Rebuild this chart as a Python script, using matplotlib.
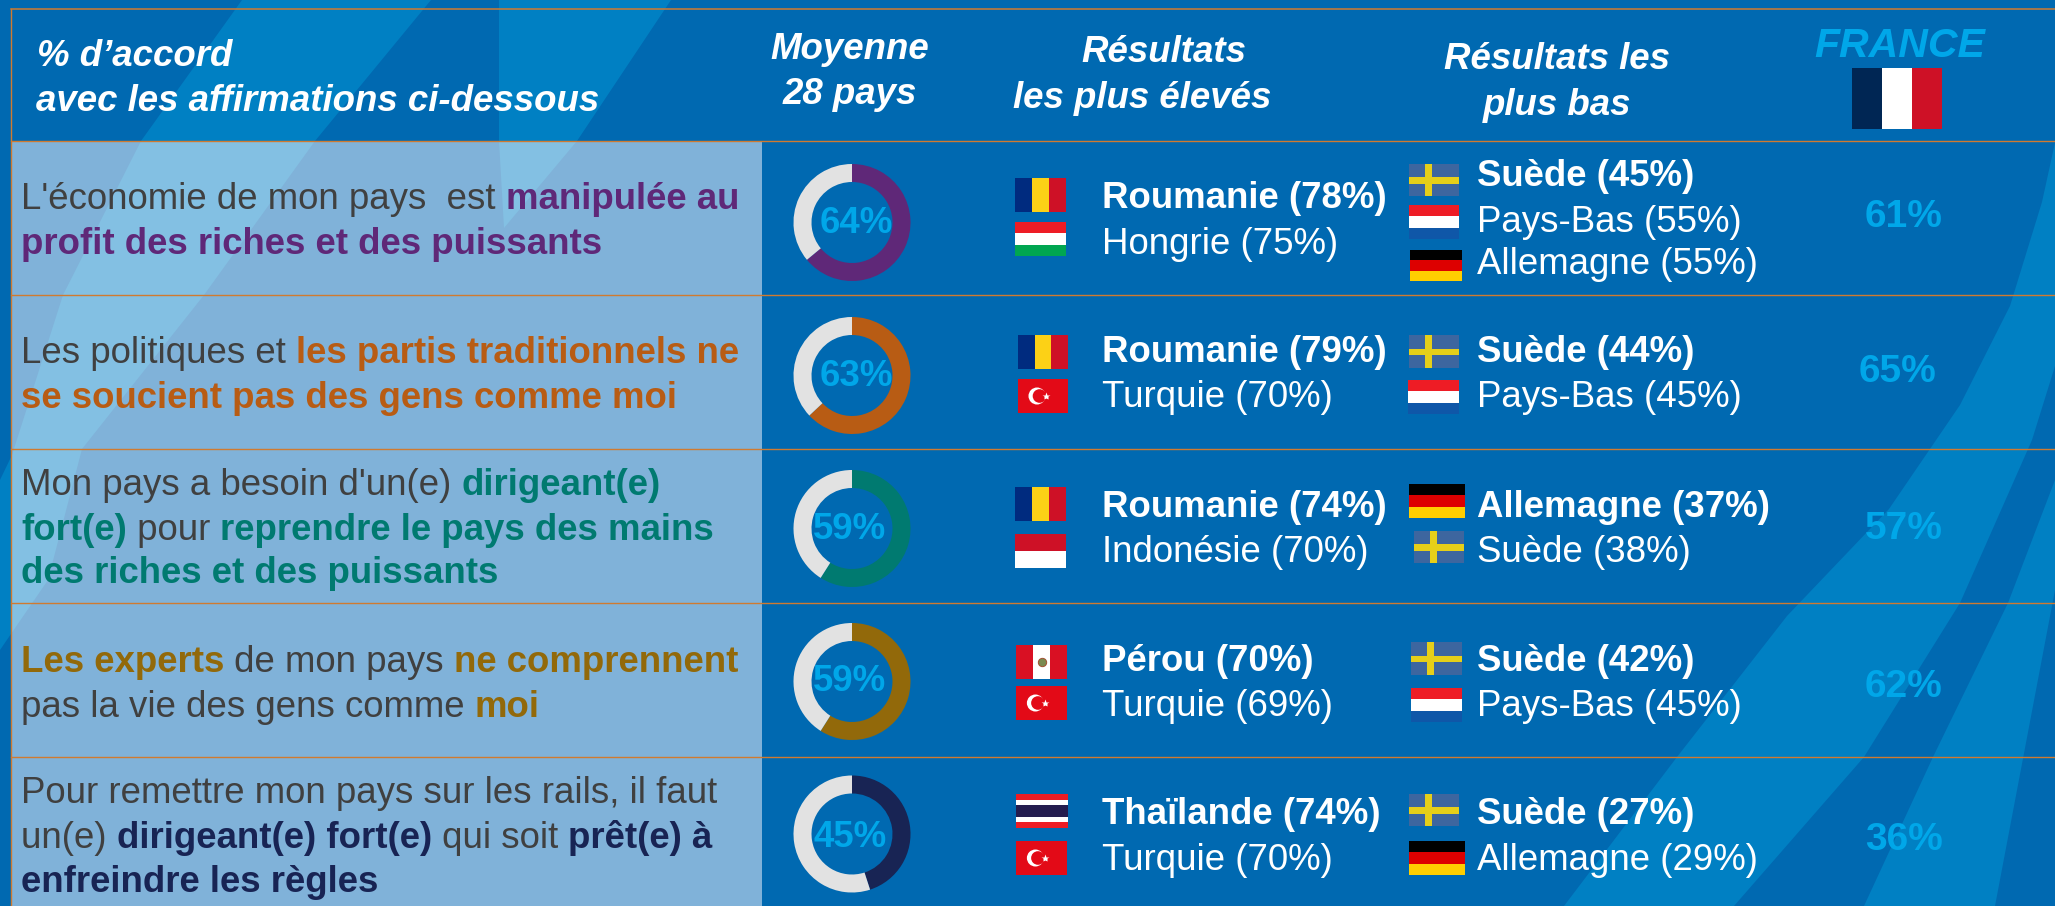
import matplotlib
matplotlib.use("Agg")
import matplotlib.pyplot as plt
from matplotlib.patches import Rectangle, Wedge, Polygon, Circle

plt.rcParams['font.family'] = ['Liberation Sans', 'DejaVu Sans']

W, H = 2055, 906
BASE = '#0069B1'
SWOOSH = '#0080C3'
PANEL = '#80B2D9'
PANEL_LIGHT = '#83C0E3'
LINE = '#D07A30'
PCT = '#00A7E9'
DARK = '#404040'
RING = '#E2E2E2'

# ---- data ----
row_colors = ['#5F2878', '#B85C14', '#007A70', '#92690A', '#182454']
averages = [64, 63, 59, 59, 45]
france = [61, 65, 57, 62, 36]
statements = [
    [[("L'économie de mon pays  est ", 0), ("manipulée au", 1)],
     [("profit des riches et des puissants", 1)]],
    [[("Les politiques et ", 0), ("les partis traditionnels ne", 1)],
     [("se soucient pas des gens comme moi", 1)]],
    [[("Mon pays a besoin d'un(e) ", 0), ("dirigeant(e)", 1)],
     [("fort(e)", 1), (" pour ", 0), ("reprendre le pays des mains", 1)],
     [("des riches et des puissants", 1)]],
    [[("Les experts", 1), (" de mon pays ", 0), ("ne comprennent", 1)],
     [("pas la vie des gens comme ", 0), ("moi", 1)]],
    [[("Pour remettre mon pays sur les rails, il faut", 0)],
     [("un(e) ", 0), ("dirigeant(e) fort(e)", 1), (" qui soit ", 0), ("prêt(e) à", 1)],
     [("enfreindre les règles", 1)]],
]
statement_baselines = [[209, 254], [363, 408], [495, 540, 583], [672, 717], [803, 848, 892]]
highest = [[("Roumanie", 78), ("Hongrie", 75)],
           [("Roumanie", 79), ("Turquie", 70)],
           [("Roumanie", 74), ("Indonésie", 70)],
           [("Pérou", 70), ("Turquie", 69)],
           [("Thaïlande", 74), ("Turquie", 70)]]
lowest = [[("Suède", 45), ("Pays-Bas", 55), ("Allemagne", 55)],
          [("Suède", 44), ("Pays-Bas", 45)],
          [("Allemagne", 37), ("Suède", 38)],
          [("Suède", 42), ("Pays-Bas", 45)],
          [("Suède", 27), ("Allemagne", 29)]]

# ---- layout (pixels) ----
rules = [141, 295, 449, 603, 757]
donut_y = [222.5, 375.5, 528.5, 681.5, 834]
donut_label = [(856, 233), (856, 386), (850, 539), (850, 691), (850, 847)]
france_xy = [(1904, 227), (1897, 382), (1904, 539), (1904, 697), (1904, 850)]
high_base = [[208, 254], [362, 407], [517, 562], [671, 716], [824, 870]]
low_base = [[186, 232, 274], [362, 407], [517, 562], [671, 716], [824, 870]]
high_flags = [[(1015, 178, 51, 34), (1015, 222, 51, 34)],
              [(1018, 335, 50, 34), (1018, 379, 50, 34)],
              [(1015, 487, 51, 34), (1015, 534, 51, 34)],
              [(1016, 645, 51, 34), (1016, 686, 51, 34)],
              [(1016, 794, 52, 34), (1016, 841, 51, 34)]]
low_flags = [[(1409, 164, 50, 32), (1409, 205, 50, 34), (1410, 250, 52, 31)],
             [(1409, 335, 50, 33), (1408, 380, 51, 34)],
             [(1409, 484, 56, 34), (1414, 531, 50, 32)],
             [(1411, 642, 51, 33), (1411, 688, 51, 34)],
             [(1409, 794, 50, 32), (1409, 841, 56, 34)]]

fig = plt.figure(figsize=(W / 100, H / 100), dpi=100, facecolor=BASE)
ax = fig.add_axes([0, 0, 1, 1])
ax.set_xlim(0, W)
ax.set_ylim(H, 0)
ax.axis('off')

# ---- background swooshes ----
bands = [
    [(242, 0), (141, 141), (63, 295), (12, 455), (0, 480), (0, 650), (48, 580), (82, 449),
     (204, 295), (315, 141), (431, 0)],
    [(499, 0), (499, 141), (504, 228), (577, 141), (671, 0)],
    [(2060, 120), (2042, 202), (2010, 306), (1960, 405), (1889, 509), (1787, 616), (1677, 757), (1564, 906),
     (1734, 906), (1864, 757), (1960, 603), (2032, 440), (2060, 350)],
    [(2055, 480), (2008, 603), (1933, 757), (1864, 906), (1995, 906), (2055, 590)],
]
for b in bands:
    ax.add_patch(Polygon(b, closed=True, fc=SWOOSH, ec='none', zorder=1))

# ---- left panel ----
ax.add_patch(Rectangle((11, 141), 751, H - 141, fc=PANEL, ec='none', zorder=2))
for b in bands[:2]:
    p = Polygon(b, closed=True, fc=PANEL_LIGHT, ec='none', zorder=2.1)
    ax.add_patch(p)
    p.set_clip_path(Rectangle((11, 141), 751, H - 141, transform=ax.transData))

# ---- rules ----
ax.plot([11, W], [9, 9], color=LINE, lw=1.1, zorder=3)
ax.plot([11, 11], [9, H], color=LINE, lw=1.0, zorder=3)
for y in rules:
    ax.plot([11, W], [y, y], color=LINE, lw=1.0, zorder=3)

FS = 26.4


def txt(x, y, s, **kw):
    kw.setdefault('va', 'baseline')
    kw.setdefault('zorder', 6)
    return ax.text(x, y, s, **kw)


# ---- header ----
HK = dict(color='white', fontweight='bold', fontstyle='italic', fontsize=FS)
txt(37, 66, "% d’accord", **HK)
txt(36, 111, "avec les affirmations ci-dessous", **HK)
txt(850, 59, "Moyenne", ha='center', **HK)
txt(850, 104, "28 pays", ha='center', **HK)
txt(1164, 62, "Résultats", ha='center', **HK)
txt(1142, 108, "les plus élevés", ha='center', **HK)
txt(1557, 69, "Résultats les", ha='center', **HK)
txt(1557, 115, "plus bas", ha='center', **HK)
txt(1900, 57, "FRANCE", ha='center', color=PCT, fontweight='bold', fontstyle='italic', fontsize=29.5)


# ---- flags ----
def hstripes(box, cols):
    x, y, w, h = box
    for i, c in enumerate(cols):
        ax.add_patch(Rectangle((x, y + i * h / len(cols)), w, h / len(cols), fc=c, ec='none', zorder=5))


def vstripes(box, cols):
    x, y, w, h = box
    for i, c in enumerate(cols):
        ax.add_patch(Rectangle((x + i * w / len(cols), y), w / len(cols), h, fc=c, ec='none', zorder=5))


def flag(name, box):
    x, y, w, h = box
    if name == 'Roumanie':
        vstripes(box, ['#002B7F', '#FCD116', '#CE1126'])
    elif name == 'Hongrie':
        hstripes(box, ['#EE1C25', '#FFFFFF', '#00A651'])
    elif name == 'Pays-Bas':
        hstripes(box, ['#EE1C25', '#FFFFFF', '#0F57A8'])
    elif name == 'Allemagne':
        hstripes(box, ['#000000', '#DD0000', '#FFCE00'])
    elif name == 'Indonésie':
        hstripes(box, ['#CE1126', '#FFFFFF'])
    elif name == 'Suède':
        ax.add_patch(Rectangle((x, y), w, h, fc='#3D669F', ec='none', zorder=5))
        ax.add_patch(Rectangle((x + 0.31 * w, y), 0.14 * w, h, fc='#E6CF19', ec='none', zorder=5.1))
        ax.add_patch(Rectangle((x, y + 0.41 * h), w, 0.2 * h, fc='#E6CF19', ec='none', zorder=5.1))
    elif name == 'Turquie':
        ax.add_patch(Rectangle((x, y), w, h, fc='#E30A17', ec='none', zorder=5))
        cx, cy = x + 0.38 * w, y + 0.5 * h
        ax.add_patch(Circle((cx, cy), 0.25 * h, fc='white', ec='none', zorder=5.1))
        ax.add_patch(Circle((cx + 0.05 * w, cy), 0.2 * h, fc='#E30A17', ec='none', zorder=5.2))
        ax.plot([x + 0.56 * w], [cy], marker='*', ms=6, mfc='white', mec='none', zorder=5.3)
    elif name == 'Pérou':
        vstripes(box, ['#D91023', '#FFFFFF', '#D91023'])
        ax.plot([x + 0.5 * w], [y + 0.5 * h], marker='o', ms=6, mfc='#7A8A50', mec='#A05030', mew=0.7, zorder=5.3)
    elif name == 'Thaïlande':
        for frac, hh, c in [(0, 1, '#ED1C24'), (1 / 6, 4 / 6, '#FFFFFF'), (2 / 6, 2 / 6, '#241D4F')]:
            ax.add_patch(Rectangle((x, y + frac * h), w, hh * h, fc=c, ec='none', zorder=5 + frac))
    elif name == 'France':
        vstripes(box, ['#002654', '#FFFFFF', '#CE1126'])


flag('France', (1852, 68, 90, 61))

# ---- rows ----
fig.canvas.draw()
renderer = fig.canvas.get_renderer()


def run_width(s, weight):
    t = ax.text(0, 0, s + '|', fontsize=FS, fontweight=weight)
    a = t.get_window_extent(renderer).width
    t.set_text('|')
    b = t.get_window_extent(renderer).width
    t.remove()
    return a - b


for i in range(5):
    col = row_colors[i]
    for line, yb in zip(statements[i], statement_baselines[i]):
        x = 21
        for s, bold in line:
            w = 'bold' if bold else 'normal'
            txt(x, yb, s, fontsize=FS, fontweight=w, color=col if bold else DARK)
            x += run_width(s, w)

    # donut: wedges run clockwise from 12 o'clock
    cx, cy = 852, donut_y[i]
    r, width = 58.5, 18
    a = averages[i] * 3.6
    ax.add_patch(Wedge((cx, cy), r, -90, -90 + a, width=width, fc=col, ec='none', zorder=4))
    ax.add_patch(Wedge((cx, cy), r, -90 + a, 270, width=width, fc=RING, ec='none', zorder=4))
    lx, ly = donut_label[i]
    txt(lx, ly, f"{averages[i]}%", ha='center', fontsize=FS, fontweight='bold', color=PCT)

    for j, ((name, val), yb, box) in enumerate(zip(highest[i], high_base[i], high_flags[i])):
        txt(1102, yb, f"{name} ({val}%)", fontsize=FS, color='white', fontweight='bold' if j == 0 else 'normal')
        flag(name, box)
    for j, ((name, val), yb, box) in enumerate(zip(lowest[i], low_base[i], low_flags[i])):
        txt(1477, yb, f"{name} ({val}%)", fontsize=FS, color='white', fontweight='bold' if j == 0 else 'normal')
        flag(name, box)

    fx, fy = france_xy[i]
    txt(fx, fy, f"{france[i]}%", ha='center', fontsize=28, fontweight='bold', color=PCT)

fig.savefig('out.png', dpi=100, facecolor=BASE)
